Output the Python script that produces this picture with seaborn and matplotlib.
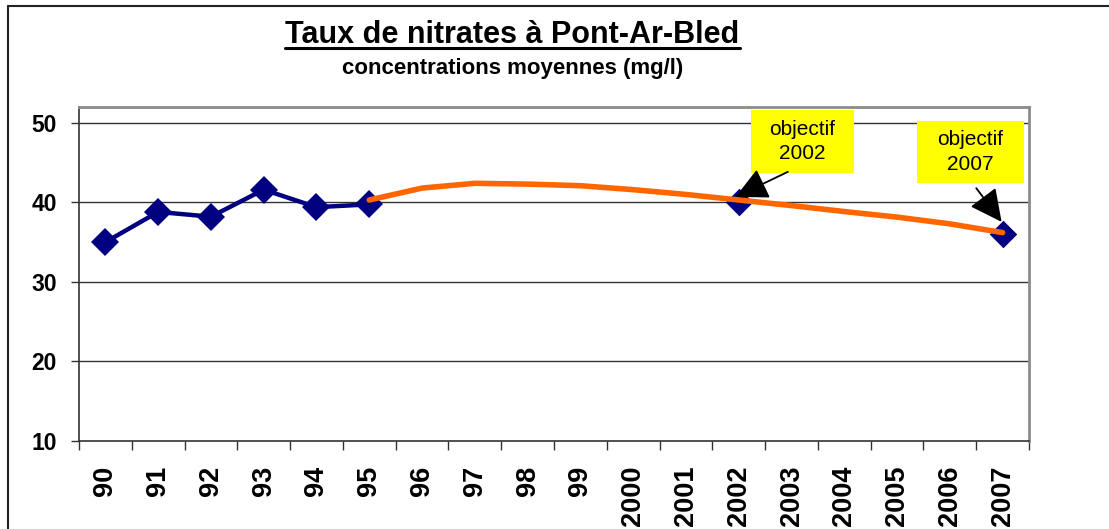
import matplotlib
matplotlib.use("Agg")
import matplotlib.pyplot as plt
import numpy as np
import seaborn as sns
from matplotlib.lines import Line2D
from matplotlib.patches import Rectangle

# --- data ---
annees = ["90", "91", "92", "93", "94", "95", "96", "97", "98", "99",
          "2000", "2001", "2002", "2003", "2004", "2005", "2006", "2007"]
mesures = [35.0, 38.8, 38.2, 41.6, 39.4, 39.75]          # 90 -> 95
objectif_annees = ["2002", "2007"]
objectif_valeurs = [40.05, 36.0]
tendance_annees = annees[5:]                              # 95 -> 2007
tendance = [40.3, 41.8, 42.4, 42.3, 42.1, 41.6, 41.0, 40.3,
            39.6, 38.85, 38.15, 37.3, 36.2]
y_ticks = [10, 20, 30, 40, 50]

NAVY = "#000080"
ORANGE = "#FF6600"

sns.set_style("white")
plt.rcParams["font.family"] = ["Liberation Sans", "DejaVu Sans"]
plt.rcParams["text.color"] = "black"
plt.rcParams["xtick.color"] = "black"
plt.rcParams["ytick.color"] = "black"

pos = {a: i for i, a in enumerate(annees)}

fig = plt.figure(figsize=(11.09, 5.29), dpi=100)
ax = fig.add_axes([0.0712, 0.1664, 0.8567, 0.6314])

sns.lineplot(x=[pos[a] for a in annees[:6]], y=mesures, ax=ax, color=NAVY,
             linewidth=3.2, marker="D", markersize=14, markeredgecolor=NAVY,
             markeredgewidth=0, zorder=3)
sns.scatterplot(x=[pos[a] for a in objectif_annees], y=objectif_valeurs, ax=ax,
                color=NAVY, marker="D", s=14 ** 2, linewidth=0, zorder=3)
sns.lineplot(x=[pos[a] for a in tendance_annees], y=tendance, ax=ax, color=ORANGE,
             linewidth=4, zorder=4, solid_joinstyle="round")

ax.set_xlim(-0.5, len(annees) - 0.5)
ax.set_ylim(10, 52)
ax.set_yticks(y_ticks)
ax.set_yticklabels([str(v) for v in y_ticks], fontsize=16.5, fontweight="bold")
ax.set_xticks(range(len(annees)))
ax.set_xticklabels(annees, rotation=90, fontsize=19.5, fontweight="bold")
ax.set_xticks(np.arange(-0.5, len(annees), 1), minor=True)
ax.tick_params(axis="x", which="major", length=0, pad=18)
ax.tick_params(axis="x", which="minor", length=6.5, width=1, color="#333333",
               direction="out", bottom=True)
ax.tick_params(axis="y", length=6, width=1, color="#333333", direction="out",
               pad=10, left=True)
ax.set_xlabel("")
ax.set_ylabel("")

for v in y_ticks[1:]:
    ax.axhline(v, color="#333333", linewidth=1, zorder=1)

for side in ["top", "right"]:
    ax.spines[side].set_color("#8c8c8c")
    ax.spines[side].set_linewidth(2)
for side in ["left", "bottom"]:
    ax.spines[side].set_color("#333333")
    ax.spines[side].set_linewidth(1.2)

# callouts
callouts = [
    ("objectif\n2002", (12.23, 43.71, 1.95, 7.93), (12.93, 43.84), (11.94, 40.69)),
    ("objectif\n2007", (15.37, 42.45, 2.03, 7.80), (16.50, 41.79), (16.98, 37.55)),
]
for texte, (x0, y0, w, h), tail, tip in callouts:
    ax.add_patch(Rectangle((x0, y0), w, h, facecolor="#FFFF00", edgecolor="none",
                           zorder=5, clip_on=False))
    ax.text(x0 + w / 2, y0 + h / 2, texte, ha="center", va="center",
            fontsize=15, zorder=6, linespacing=1.35)
    ax.annotate("", xy=tip, xytext=tail, zorder=6,
                arrowprops=dict(arrowstyle="-|>,head_length=1.0,head_width=0.5",
                                mutation_scale=20, color="black", linewidth=1.3,
                                shrinkA=0, shrinkB=0))

# titles
titre = fig.text(0.4621, 1 - 43.3 / 529, "Taux de nitrates à Pont-Ar-Bled",
                 ha="center", va="baseline", fontsize=22, fontweight="bold")
fig.text(0.4621, 1 - 74 / 529, "concentrations moyennes (mg/l)",
         ha="center", va="baseline", fontsize=16, fontweight="bold")

fig.canvas.draw()
bb = titre.get_window_extent()
W, H = fig.bbox.width, fig.bbox.height
y_u = 1 - 48 / 529
fig.add_artist(Line2D([bb.x0 / W, bb.x1 / W], [y_u, y_u], color="black", linewidth=2.2))

# outer chart frame (left and top edges visible)
fig.add_artist(Line2D([8 / 1109, 8 / 1109], [0, 1 - 6 / 529], color="#222222", linewidth=1.5))
fig.add_artist(Line2D([8 / 1109, 1], [1 - 6 / 529, 1 - 6 / 529], color="#222222", linewidth=1.5))

fig.savefig("out.png", dpi=100)
